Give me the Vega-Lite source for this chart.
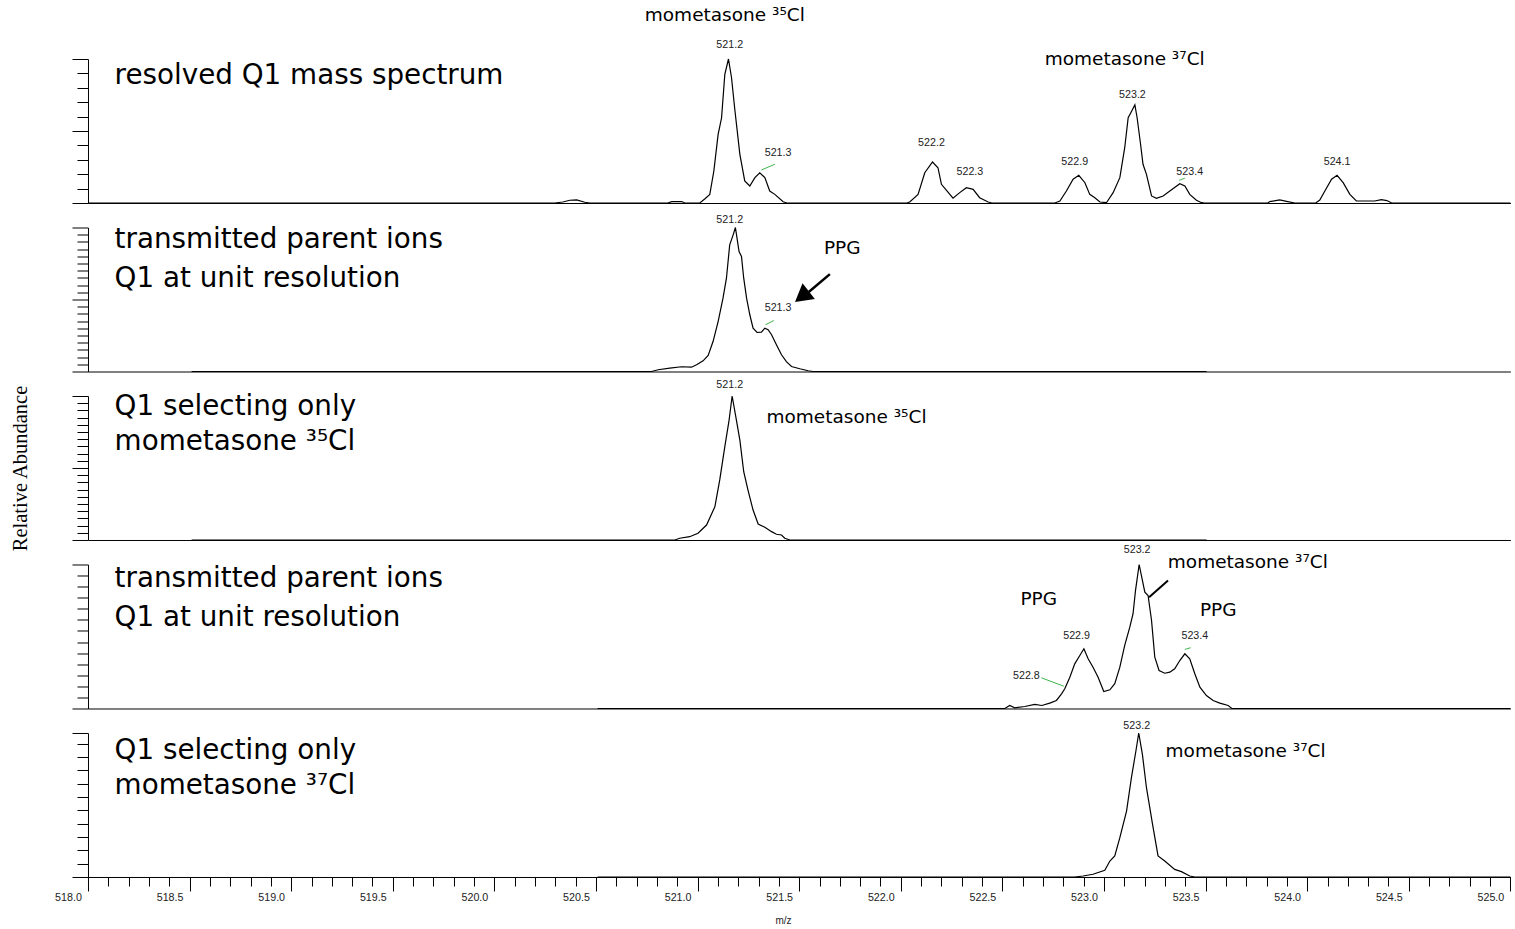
{
  "$schema": "https://vega.github.io/schema/vega-lite/v6.json",
  "padding": {"left": 10, "top": 5, "right": 5, "bottom": 5},
  "bounds": "flush",
  "spacing": 24.5,
  "config": {
    "view": {"stroke": null},
    "axis": {"grid": false, "domainColor": "#000", "tickColor": "#000", "domainWidth": 1, "tickWidth": 1}
  },
  "datasets": {
    "spectra": [
      {"panel":1,"mz":518.0,"ab":0},{"panel":1,"mz":520.297,"ab":0},{"panel":1,"mz":520.337,"ab":0.7},{"panel":1,"mz":520.371,"ab":1.9},{"panel":1,"mz":520.405,"ab":2.1},{"panel":1,"mz":520.445,"ab":0.5},{"panel":1,"mz":520.469,"ab":0},
      {"panel":1,"mz":520.853,"ab":0},{"panel":1,"mz":520.873,"ab":1.0},{"panel":1,"mz":520.922,"ab":1.0},{"panel":1,"mz":520.937,"ab":0},
      {"panel":1,"mz":521.011,"ab":0},{"panel":1,"mz":521.035,"ab":2.8},{"panel":1,"mz":521.06,"ab":6.0},{"panel":1,"mz":521.08,"ab":22.2},{"panel":1,"mz":521.101,"ab":47.7},{"panel":1,"mz":521.118,"ab":59.2},{"panel":1,"mz":521.134,"ab":89.4},{"panel":1,"mz":521.152,"ab":100},{"panel":1,"mz":521.167,"ab":87.0},{"panel":1,"mz":521.183,"ab":65.1},{"panel":1,"mz":521.208,"ab":33.8},{"panel":1,"mz":521.232,"ab":15.3},{"panel":1,"mz":521.257,"ab":11.8},{"panel":1,"mz":521.282,"ab":17.6},{"panel":1,"mz":521.306,"ab":21.0},{"panel":1,"mz":521.331,"ab":17.6},{"panel":1,"mz":521.355,"ab":8.3},{"panel":1,"mz":521.38,"ab":6.0},{"panel":1,"mz":521.421,"ab":0.9},{"panel":1,"mz":521.439,"ab":0},
      {"panel":1,"mz":522.029,"ab":0},{"panel":1,"mz":522.044,"ab":0.7},{"panel":1,"mz":522.085,"ab":6.0},{"panel":1,"mz":522.118,"ab":21.0},{"panel":1,"mz":522.156,"ab":28.5},{"panel":1,"mz":522.183,"ab":24.5},{"panel":1,"mz":522.2,"ab":13.0},{"panel":1,"mz":522.225,"ab":8.8},{"panel":1,"mz":522.257,"ab":3.3},{"panel":1,"mz":522.29,"ab":7.2},{"panel":1,"mz":522.323,"ab":10.6},{"panel":1,"mz":522.356,"ab":9.5},{"panel":1,"mz":522.388,"ab":3.7},{"panel":1,"mz":522.43,"ab":0.7},{"panel":1,"mz":522.448,"ab":0},
      {"panel":1,"mz":522.758,"ab":0},{"panel":1,"mz":522.783,"ab":1.4},{"panel":1,"mz":522.815,"ab":8.3},{"panel":1,"mz":522.848,"ab":16.5},{"panel":1,"mz":522.876,"ab":19.2},{"panel":1,"mz":522.906,"ab":14.1},{"panel":1,"mz":522.93,"ab":6.0},{"panel":1,"mz":522.955,"ab":3.7},{"panel":1,"mz":522.98,"ab":0.7},{"panel":1,"mz":523.012,"ab":0.2},
      {"panel":1,"mz":523.045,"ab":7.2},{"panel":1,"mz":523.078,"ab":17.6},{"panel":1,"mz":523.102,"ab":38.4},{"panel":1,"mz":523.119,"ab":59.2},{"panel":1,"mz":523.132,"ab":62.7},{"panel":1,"mz":523.152,"ab":68.1},{"panel":1,"mz":523.163,"ab":59.2},{"panel":1,"mz":523.18,"ab":40.8},{"panel":1,"mz":523.192,"ab":26.9},{"panel":1,"mz":523.209,"ab":19.9},{"panel":1,"mz":523.234,"ab":4.9},{"panel":1,"mz":523.258,"ab":3.3},{"panel":1,"mz":523.291,"ab":4.9},{"panel":1,"mz":523.324,"ab":8.3},{"panel":1,"mz":523.373,"ab":13.4},{"panel":1,"mz":523.398,"ab":11.8},{"panel":1,"mz":523.422,"ab":6.0},{"panel":1,"mz":523.455,"ab":1.9},{"panel":1,"mz":523.48,"ab":0.2},{"panel":1,"mz":523.496,"ab":0},
      {"panel":1,"mz":523.806,"ab":0},{"panel":1,"mz":523.816,"ab":1.0},{"panel":1,"mz":523.865,"ab":2.1},{"panel":1,"mz":523.904,"ab":1.0},{"panel":1,"mz":523.939,"ab":0},
      {"panel":1,"mz":524.042,"ab":0},{"panel":1,"mz":524.062,"ab":2.1},{"panel":1,"mz":524.087,"ab":8.3},{"panel":1,"mz":524.12,"ab":16.5},{"panel":1,"mz":524.147,"ab":19.2},{"panel":1,"mz":524.177,"ab":14.1},{"panel":1,"mz":524.21,"ab":6.0},{"panel":1,"mz":524.242,"ab":1.4},{"panel":1,"mz":524.332,"ab":1.4},{"panel":1,"mz":524.365,"ab":2.3},{"panel":1,"mz":524.392,"ab":1.7},{"panel":1,"mz":524.416,"ab":0},{"panel":1,"mz":525.0,"ab":0},

      {"panel":2,"mz":518.51,"ab":0},{"panel":2,"mz":520.773,"ab":0},{"panel":2,"mz":520.806,"ab":1.2},{"panel":2,"mz":520.863,"ab":2.3},{"panel":2,"mz":520.921,"ab":3.3},{"panel":2,"mz":520.97,"ab":3.0},{"panel":2,"mz":520.995,"ab":4.7},{"panel":2,"mz":521.027,"ab":7.4},{"panel":2,"mz":521.052,"ab":11.1},{"panel":2,"mz":521.076,"ab":20.8},{"panel":2,"mz":521.101,"ab":34.7},{"panel":2,"mz":521.125,"ab":50.9},{"panel":2,"mz":521.142,"ab":64.8},{"panel":2,"mz":521.158,"ab":88.0},{"panel":2,"mz":521.175,"ab":94.9},{"panel":2,"mz":521.186,"ab":100},{"panel":2,"mz":521.194,"ab":92.6},{"panel":2,"mz":521.204,"ab":83.3},{"panel":2,"mz":521.216,"ab":79.9},{"panel":2,"mz":521.227,"ab":64.8},{"panel":2,"mz":521.241,"ab":50.9},{"panel":2,"mz":521.257,"ab":39.4},{"panel":2,"mz":521.273,"ab":30.1},{"panel":2,"mz":521.293,"ab":27.1},{"panel":2,"mz":521.314,"ab":27.3},{"panel":2,"mz":521.331,"ab":30.1},{"panel":2,"mz":521.347,"ab":29.0},{"panel":2,"mz":521.364,"ab":25.5},{"panel":2,"mz":521.388,"ab":18.5},{"panel":2,"mz":521.413,"ab":11.6},{"panel":2,"mz":521.437,"ab":6.9},{"panel":2,"mz":521.462,"ab":3.5},{"panel":2,"mz":521.503,"ab":1.9},{"panel":2,"mz":521.544,"ab":0.5},{"panel":2,"mz":521.568,"ab":0},{"panel":2,"mz":523.505,"ab":0},

      {"panel":3,"mz":518.51,"ab":0},{"panel":3,"mz":520.888,"ab":0},{"panel":3,"mz":520.912,"ab":1.2},{"panel":3,"mz":520.961,"ab":2.3},{"panel":3,"mz":521.002,"ab":4.7},{"panel":3,"mz":521.044,"ab":10.4},{"panel":3,"mz":521.085,"ab":23.1},{"panel":3,"mz":521.109,"ab":41.7},{"panel":3,"mz":521.134,"ab":64.8},{"panel":3,"mz":521.155,"ab":83.3},{"panel":3,"mz":521.17,"ab":100},{"panel":3,"mz":521.191,"ab":83.3},{"panel":3,"mz":521.208,"ab":69.4},{"panel":3,"mz":521.227,"ab":47.4},{"panel":3,"mz":521.248,"ab":34.7},{"panel":3,"mz":521.273,"ab":20.8},{"panel":3,"mz":521.298,"ab":11.1},{"panel":3,"mz":521.331,"ab":8.8},{"panel":3,"mz":521.364,"ab":5.8},{"panel":3,"mz":521.388,"ab":4.0},{"panel":3,"mz":521.413,"ab":3.5},{"panel":3,"mz":521.429,"ab":1.2},{"panel":3,"mz":521.454,"ab":0},{"panel":3,"mz":523.505,"ab":0},

      {"panel":4,"mz":520.508,"ab":0},{"panel":4,"mz":522.512,"ab":0},{"panel":4,"mz":522.536,"ab":2.1},{"panel":4,"mz":522.561,"ab":0.5},{"panel":4,"mz":522.61,"ab":1.4},{"panel":4,"mz":522.659,"ab":2.8},{"panel":4,"mz":522.694,"ab":2.1},{"panel":4,"mz":522.733,"ab":3.7},{"panel":4,"mz":522.766,"ab":5.6},{"panel":4,"mz":522.791,"ab":10.2},{"panel":4,"mz":522.807,"ab":13.7},{"panel":4,"mz":522.832,"ab":21.7},{"panel":4,"mz":522.856,"ab":31.0},{"panel":4,"mz":522.881,"ab":36.8},{"panel":4,"mz":522.901,"ab":41.5},{"panel":4,"mz":522.922,"ab":34.5},{"panel":4,"mz":522.946,"ab":28.7},{"panel":4,"mz":522.971,"ab":21.7},{"panel":4,"mz":522.999,"ab":11.8},{"panel":4,"mz":523.029,"ab":13.0},{"panel":4,"mz":523.053,"ab":17.2},{"panel":4,"mz":523.078,"ab":28.7},{"panel":4,"mz":523.102,"ab":43.8},{"panel":4,"mz":523.127,"ab":56.5},{"panel":4,"mz":523.143,"ab":65.8},{"panel":4,"mz":523.155,"ab":81.9},{"panel":4,"mz":523.173,"ab":100},{"panel":4,"mz":523.189,"ab":88.9},{"panel":4,"mz":523.201,"ab":80.8},{"panel":4,"mz":523.217,"ab":78.5},{"panel":4,"mz":523.234,"ab":61.1},{"panel":4,"mz":523.25,"ab":35.6},{"panel":4,"mz":523.271,"ab":26.4},{"panel":4,"mz":523.299,"ab":24.5},{"panel":4,"mz":523.324,"ab":25.2},{"panel":4,"mz":523.348,"ab":27.6},{"panel":4,"mz":523.373,"ab":33.3},{"panel":4,"mz":523.398,"ab":38.0},{"panel":4,"mz":523.422,"ab":34.5},{"panel":4,"mz":523.447,"ab":24.1},{"panel":4,"mz":523.472,"ab":14.8},{"panel":4,"mz":523.504,"ab":9.0},{"panel":4,"mz":523.537,"ab":5.6},{"panel":4,"mz":523.57,"ab":3.7},{"panel":4,"mz":523.611,"ab":2.1},{"panel":4,"mz":523.629,"ab":0},{"panel":4,"mz":525.0,"ab":0},

      {"panel":5,"mz":520.508,"ab":0},{"panel":5,"mz":522.856,"ab":0},{"panel":5,"mz":522.897,"ab":0.7},{"panel":5,"mz":522.946,"ab":1.9},{"panel":5,"mz":523.004,"ab":4.7},{"panel":5,"mz":523.029,"ab":11.1},{"panel":5,"mz":523.053,"ab":14.6},{"panel":5,"mz":523.078,"ab":27.3},{"panel":5,"mz":523.111,"ab":45.8},{"panel":5,"mz":523.135,"ab":69.0},{"panel":5,"mz":523.157,"ab":87.5},{"panel":5,"mz":523.171,"ab":100},{"panel":5,"mz":523.189,"ab":85.2},{"panel":5,"mz":523.209,"ab":62.0},{"panel":5,"mz":523.239,"ab":36.6},{"panel":5,"mz":523.266,"ab":14.6},{"panel":5,"mz":523.299,"ab":11.1},{"panel":5,"mz":523.348,"ab":5.3},{"panel":5,"mz":523.381,"ab":3.7},{"panel":5,"mz":523.422,"ab":0.7},{"panel":5,"mz":523.447,"ab":0},{"panel":5,"mz":525.0,"ab":0}
    ],
    "peaks": [
      {"panel":1,"mz":521.158,"ab":109.5,"label":"521.2"},
      {"panel":1,"mz":521.396,"ab":34.9,"label":"521.3"},
      {"panel":1,"mz":522.151,"ab":41.9,"label":"522.2"},
      {"panel":1,"mz":522.34,"ab":21.7,"label":"522.3"},
      {"panel":1,"mz":522.856,"ab":28.7,"label":"522.9"},
      {"panel":1,"mz":523.14,"ab":75,"label":"523.2"},
      {"panel":1,"mz":523.422,"ab":21.7,"label":"523.4"},
      {"panel":1,"mz":524.147,"ab":28.7,"label":"524.1"},
      {"panel":2,"mz":521.158,"ab":105.3,"label":"521.2"},
      {"panel":2,"mz":521.396,"ab":44.0,"label":"521.3"},
      {"panel":3,"mz":521.158,"ab":107.6,"label":"521.2"},
      {"panel":4,"mz":522.618,"ab":22.4,"label":"522.8"},
      {"panel":4,"mz":522.865,"ab":50,"label":"522.9"},
      {"panel":4,"mz":523.163,"ab":110.4,"label":"523.2"},
      {"panel":4,"mz":523.447,"ab":50,"label":"523.4"},
      {"panel":5,"mz":523.161,"ab":104.9,"label":"523.2"}
    ],
    "leaders": [
      {"panel":1,"mz":521.314,"ab":22.9,"mz2":521.38,"ab2":26.9},
      {"panel":1,"mz":523.37,"ab":15.8,"mz2":523.398,"ab2":17.2},
      {"panel":2,"mz":521.334,"ab":32.4,"mz2":521.375,"ab2":35.4},
      {"panel":4,"mz":522.692,"ab":21.3,"mz2":522.802,"ab2":15.5},
      {"panel":4,"mz":523.398,"ab":41.0,"mz2":523.426,"ab2":42.2}
    ],
    "pointers": [
      {"panel":2,"mz":521.651,"ab":67.6,"mz2":521.547,"ab2":55.2},
      {"panel":4,"mz":523.315,"ab":88.9,"mz2":523.222,"ab2":77.3}
    ],
    "arrowheads": [
      {"panel":2,"mz":521.519,"ab":52.7}
    ],
    "notes": [
      {"panel":1,"mz":521.134,"ab":130.6,"label":"mometasone ³⁵Cl"},
      {"panel":1,"mz":523.102,"ab":100,"label":"mometasone ³⁷Cl"},
      {"panel":2,"mz":521.712,"ab":85.6,"label":"PPG"},
      {"panel":3,"mz":521.733,"ab":85.6,"label":"mometasone ³⁵Cl"},
      {"panel":4,"mz":522.679,"ab":76.2,"label":"PPG"},
      {"panel":4,"mz":523.708,"ab":101.6,"label":"mometasone ³⁷Cl"},
      {"panel":4,"mz":523.562,"ab":68.5,"label":"PPG"},
      {"panel":5,"mz":523.697,"ab":87.5,"label":"mometasone ³⁷Cl"}
    ],
    "titles": [
      {"panel":1,"mz":518.131,"ab":82.4,"label":"resolved Q1 mass spectrum"},
      {"panel":2,"mz":518.131,"ab":85.6,"label":"transmitted parent ions"},
      {"panel":2,"mz":518.131,"ab":59.0,"label":"Q1 at unit resolution"},
      {"panel":3,"mz":518.131,"ab":86.8,"label":"Q1 selecting only"},
      {"panel":3,"mz":518.131,"ab":62.5,"label":"mometasone ³⁵Cl"},
      {"panel":4,"mz":518.131,"ab":84.2,"label":"transmitted parent ions"},
      {"panel":4,"mz":518.131,"ab":57.6,"label":"Q1 at unit resolution"},
      {"panel":5,"mz":518.131,"ab":81.7,"label":"Q1 selecting only"},
      {"panel":5,"mz":518.131,"ab":57.4,"label":"mometasone ³⁷Cl"}
    ]
  },
  "vconcat": [
    {
      "width": 1422.4, "height": 144,
      "encoding": {
        "x": {"field": "mz", "type": "quantitative", "scale": {"domain": [518, 525], "nice": false, "zero": false}, "axis": {"ticks": false, "labels": false, "title": null, "domain": true}},
        "y": {"field": "ab", "type": "quantitative", "scale": {"domain": [0, 100], "nice": false}, "axis": {"values": [0,10,20,30,40,50,60,70,80,90,100], "labels": false, "title": null, "tickSize": {"condition": {"test": "datum.value % 50 === 0", "value": 16}, "value": 11}}}
      },
      "layer": [
        {"data": {"name": "spectra"}, "transform": [{"filter": "datum.panel === 1"}], "mark": {"type": "line", "color": "#000", "strokeWidth": 1.2}},
        {"data": {"name": "peaks"}, "transform": [{"filter": "datum.panel === 1"}], "mark": {"type": "text", "font": "Liberation Sans", "fontSize": 10.7, "color": "#222", "baseline": "middle"}, "encoding": {"text": {"field": "label"}}},
        {"data": {"name": "leaders"}, "transform": [{"filter": "datum.panel === 1"}], "mark": {"type": "rule", "color": "#3cb44b", "strokeWidth": 1}, "encoding": {"x2": {"field": "mz2"}, "y2": {"field": "ab2"}}},
        {"data": {"name": "notes"}, "transform": [{"filter": "datum.panel === 1"}], "mark": {"type": "text", "font": "DejaVu Sans", "fontSize": 18.5, "color": "#000", "baseline": "middle", "align": "center"}, "encoding": {"text": {"field": "label"}}},
        {"data": {"name": "titles"}, "transform": [{"filter": "datum.panel === 1"}], "mark": {"type": "text", "font": "DejaVu Sans", "fontSize": 27.8, "color": "#000", "baseline": "alphabetic", "align": "left"}, "encoding": {"text": {"field": "label"}}}
      ]
    },
    {
      "width": 1422.4, "height": 144,
      "encoding": {
        "x": {"field": "mz", "type": "quantitative", "scale": {"domain": [518, 525], "nice": false, "zero": false}, "axis": {"ticks": false, "labels": false, "title": null, "domain": true}},
        "y": {"field": "ab", "type": "quantitative", "scale": {"domain": [0, 100], "nice": false}, "axis": {"values": [0,5,10,15,20,25,30,35,40,45,50,55,60,65,70,75,80,85,90,95,100], "labels": false, "title": null, "tickSize": {"condition": {"test": "datum.value % 50 === 0", "value": 16}, "value": 11}}}
      },
      "layer": [
        {"data": {"name": "spectra"}, "transform": [{"filter": "datum.panel === 2"}], "mark": {"type": "line", "color": "#000", "strokeWidth": 1.2}},
        {"data": {"name": "peaks"}, "transform": [{"filter": "datum.panel === 2"}], "mark": {"type": "text", "font": "Liberation Sans", "fontSize": 10.7, "color": "#222", "baseline": "middle"}, "encoding": {"text": {"field": "label"}}},
        {"data": {"name": "leaders"}, "transform": [{"filter": "datum.panel === 2"}], "mark": {"type": "rule", "color": "#3cb44b", "strokeWidth": 1}, "encoding": {"x2": {"field": "mz2"}, "y2": {"field": "ab2"}}},
        {"data": {"name": "pointers"}, "transform": [{"filter": "datum.panel === 2"}], "mark": {"type": "rule", "color": "#000", "strokeWidth": 2.5}, "encoding": {"x2": {"field": "mz2"}, "y2": {"field": "ab2"}}},
        {"data": {"name": "arrowheads"}, "transform": [{"filter": "datum.panel === 2"}], "mark": {"type": "point", "shape": "M0,-1L0.98,0.7L-0.98,0.7Z", "filled": true, "color": "#000", "opacity": 1, "size": 416, "angle": 232}},
        {"data": {"name": "notes"}, "transform": [{"filter": "datum.panel === 2"}], "mark": {"type": "text", "font": "DejaVu Sans", "fontSize": 18.5, "color": "#000", "baseline": "middle", "align": "center"}, "encoding": {"text": {"field": "label"}}},
        {"data": {"name": "titles"}, "transform": [{"filter": "datum.panel === 2"}], "mark": {"type": "text", "font": "DejaVu Sans", "fontSize": 27.8, "color": "#000", "baseline": "alphabetic", "align": "left"}, "encoding": {"text": {"field": "label"}}}
      ]
    },
    {
      "width": 1422.4, "height": 144,
      "encoding": {
        "x": {"field": "mz", "type": "quantitative", "scale": {"domain": [518, 525], "nice": false, "zero": false}, "axis": {"ticks": false, "labels": false, "title": null, "domain": true}},
        "y": {"field": "ab", "type": "quantitative", "scale": {"domain": [0, 100], "nice": false}, "axis": {"values": [0,5,10,15,20,25,30,35,40,45,50,55,60,65,70,75,80,85,90,95,100], "labels": false, "title": "Relative Abundance", "titleFont": "Liberation Serif", "titleFontSize": 20.5, "titleFontWeight": "normal", "titleColor": "#000", "titlePadding": 41, "tickSize": {"condition": {"test": "datum.value % 50 === 0", "value": 16}, "value": 11}}}
      },
      "layer": [
        {"data": {"name": "spectra"}, "transform": [{"filter": "datum.panel === 3"}], "mark": {"type": "line", "color": "#000", "strokeWidth": 1.2}},
        {"data": {"name": "peaks"}, "transform": [{"filter": "datum.panel === 3"}], "mark": {"type": "text", "font": "Liberation Sans", "fontSize": 10.7, "color": "#222", "baseline": "middle"}, "encoding": {"text": {"field": "label"}}},
        {"data": {"name": "notes"}, "transform": [{"filter": "datum.panel === 3"}], "mark": {"type": "text", "font": "DejaVu Sans", "fontSize": 18.5, "color": "#000", "baseline": "middle", "align": "center"}, "encoding": {"text": {"field": "label"}}},
        {"data": {"name": "titles"}, "transform": [{"filter": "datum.panel === 3"}], "mark": {"type": "text", "font": "DejaVu Sans", "fontSize": 27.8, "color": "#000", "baseline": "alphabetic", "align": "left"}, "encoding": {"text": {"field": "label"}}}
      ]
    },
    {
      "width": 1422.4, "height": 144,
      "encoding": {
        "x": {"field": "mz", "type": "quantitative", "scale": {"domain": [518, 525], "nice": false, "zero": false}, "axis": {"ticks": false, "labels": false, "title": null, "domain": true}},
        "y": {"field": "ab", "type": "quantitative", "scale": {"domain": [0, 100], "nice": false}, "axis": {"values": [0,7.692,15.385,23.077,30.769,38.462,46.154,53.846,61.538,69.231,76.923,84.615,92.308,100], "labels": false, "title": null, "tickSize": {"condition": {"test": "datum.value === 0 || datum.value === 100", "value": 16}, "value": 11}}}
      },
      "layer": [
        {"data": {"name": "spectra"}, "transform": [{"filter": "datum.panel === 4"}], "mark": {"type": "line", "color": "#000", "strokeWidth": 1.2}},
        {"data": {"name": "peaks"}, "transform": [{"filter": "datum.panel === 4"}], "mark": {"type": "text", "font": "Liberation Sans", "fontSize": 10.7, "color": "#222", "baseline": "middle"}, "encoding": {"text": {"field": "label"}}},
        {"data": {"name": "leaders"}, "transform": [{"filter": "datum.panel === 4"}], "mark": {"type": "rule", "color": "#3cb44b", "strokeWidth": 1}, "encoding": {"x2": {"field": "mz2"}, "y2": {"field": "ab2"}}},
        {"data": {"name": "pointers"}, "transform": [{"filter": "datum.panel === 4"}], "mark": {"type": "rule", "color": "#000", "strokeWidth": 2}, "encoding": {"x2": {"field": "mz2"}, "y2": {"field": "ab2"}}},
        {"data": {"name": "notes"}, "transform": [{"filter": "datum.panel === 4"}], "mark": {"type": "text", "font": "DejaVu Sans", "fontSize": 18.5, "color": "#000", "baseline": "middle", "align": "center"}, "encoding": {"text": {"field": "label"}}},
        {"data": {"name": "titles"}, "transform": [{"filter": "datum.panel === 4"}], "mark": {"type": "text", "font": "DejaVu Sans", "fontSize": 27.8, "color": "#000", "baseline": "alphabetic", "align": "left"}, "encoding": {"text": {"field": "label"}}}
      ]
    },
    {
      "width": 1422.4, "height": 144,
      "encoding": {
        "x": {"field": "mz", "type": "quantitative", "scale": {"domain": [518, 525], "nice": false, "zero": false},
              "axis": {"values": [518.0,518.1,518.2,518.3,518.4,518.5,518.6,518.7,518.8,518.9,519.0,519.1,519.2,519.3,519.4,519.5,519.6,519.7,519.8,519.9,520.0,520.1,520.2,520.3,520.4,520.5,520.6,520.7,520.8,520.9,521.0,521.1,521.2,521.3,521.4,521.5,521.6,521.7,521.8,521.9,522.0,522.1,522.2,522.3,522.4,522.5,522.6,522.7,522.8,522.9,523.0,523.1,523.2,523.3,523.4,523.5,523.6,523.7,523.8,523.9,524.0,524.1,524.2,524.3,524.4,524.5,524.6,524.7,524.8,524.9,525.0],
                       "labelExpr": "abs(datum.value * 2 - round(datum.value * 2)) < 0.01 ? format(datum.value, '.1f') : ''",
                       "labelOffset": -20, "labelFlush": false, "labelOverlap": false, "labelBound": false,
                       "labelFont": "Liberation Sans", "labelFontSize": 10.7, "labelColor": "#222", "labelPadding": 2,
                       "tickSize": {"condition": {"test": "abs(datum.value * 2 - round(datum.value * 2)) < 0.01", "value": 14}, "value": 9},
                       "title": "m/z", "titleFont": "Liberation Sans", "titleFontSize": 10, "titleFontWeight": "normal", "titleColor": "#222", "titlePadding": 13, "titleX": 695}},
        "y": {"field": "ab", "type": "quantitative", "scale": {"domain": [0, 100], "nice": false}, "axis": {"values": [0,9.26,18.52,27.78,37.04,46.3,55.56,64.81,74.07,83.33,92.59,100], "labels": false, "title": null, "tickSize": {"condition": {"test": "datum.value === 0 || datum.value === 100", "value": 16}, "value": 11}}}
      },
      "layer": [
        {"data": {"name": "spectra"}, "transform": [{"filter": "datum.panel === 5"}], "mark": {"type": "line", "color": "#000", "strokeWidth": 1.2}},
        {"data": {"name": "peaks"}, "transform": [{"filter": "datum.panel === 5"}], "mark": {"type": "text", "font": "Liberation Sans", "fontSize": 10.7, "color": "#222", "baseline": "middle"}, "encoding": {"text": {"field": "label"}}},
        {"data": {"name": "notes"}, "transform": [{"filter": "datum.panel === 5"}], "mark": {"type": "text", "font": "DejaVu Sans", "fontSize": 18.5, "color": "#000", "baseline": "middle", "align": "center"}, "encoding": {"text": {"field": "label"}}},
        {"data": {"name": "titles"}, "transform": [{"filter": "datum.panel === 5"}], "mark": {"type": "text", "font": "DejaVu Sans", "fontSize": 27.8, "color": "#000", "baseline": "alphabetic", "align": "left"}, "encoding": {"text": {"field": "label"}}}
      ]
    }
  ]
}
